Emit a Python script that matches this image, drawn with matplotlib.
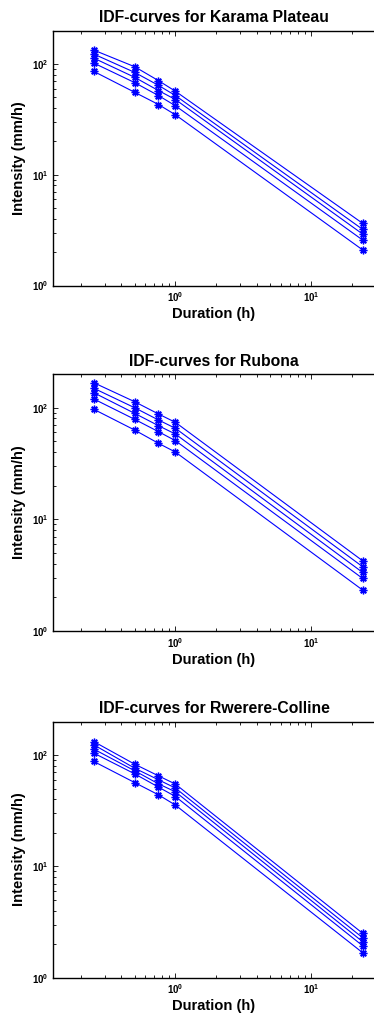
import matplotlib
matplotlib.use("Agg")
import matplotlib.pyplot as plt
from matplotlib.lines import Line2D
import numpy as np

plt.rcParams['font.family'] = ['Liberation Sans', 'DejaVu Sans']
plt.rcParams['font.weight'] = 'bold'
plt.rcParams['mathtext.fontset'] = 'custom'
plt.rcParams['mathtext.rm'] = 'Liberation Sans:bold'
plt.rcParams['mathtext.bf'] = 'Liberation Sans:bold'
plt.rcParams['mathtext.it'] = 'Liberation Sans:bold'

durations = [0.25, 0.5, 0.75, 1.0, 24.0]

titles = ["IDF-curves for Karama Plateau",
          "IDF-curves for Rubona",
          "IDF-curves for Rwerere-Colline"]

# each station: 5 return-period curves (top to bottom), values at durations
karama = [
    [133.6, 94.6, 70.8, 56.8, 3.65],
    [123.0, 84.1, 64.2, 51.9, 3.22],
    [113.0, 75.9, 57.6, 47.8, 2.92],
    [102.0, 68.0, 51.9, 42.0, 2.58],
    [85.8, 55.6, 43.1, 34.8, 2.10],
]
rubona = [
    [167.0, 113.0, 87.7, 73.8, 4.26],
    [149.0, 99.8, 77.5, 65.3, 3.77],
    [136.0, 88.9, 68.9, 58.0, 3.35],
    [119.5, 78.6, 60.9, 50.6, 2.96],
    [96.6, 63.0, 47.9, 40.0, 2.33],
]
rwerere = [
    [132.0, 82.8, 65.0, 54.8, 2.51],
    [123.5, 76.2, 59.9, 50.5, 2.29],
    [113.0, 72.2, 55.1, 46.7, 2.11],
    [104.0, 67.8, 51.5, 42.4, 1.94],
    [87.5, 56.6, 43.9, 35.5, 1.68],
]
stations = [karama, rubona, rwerere]

W, H = 374, 1015
fig = plt.figure(figsize=(W / 100, H / 100), dpi=100)

left_px, right_px = 53, 380
tops = [30.7, 374, 721.5]
bots = [285.5, 631, 977.7]

for title, data, t, b in zip(titles, stations, tops, bots):
    ax = fig.add_axes([left_px / W, 1 - b / H, (right_px - left_px) / W, (b - t) / H])
    for curve in data:
        ax.plot(durations, curve, color=(0, 0, 1), lw=0.8, marker=(8, 2, 0),
                markersize=5.5, markeredgewidth=1.0)
    ax.set_xscale('log')
    ax.set_yscale('log')
    ax.set_xlim(0.125, 32.3)
    ax.set_ylim(1, 200)
    ax.set_title(title, fontsize=11.3, fontweight='bold', pad=6,
                 x=(214 - left_px) / (right_px - left_px))
    ax.set_xlabel('Duration (h)', fontsize=10.6, fontweight='bold', labelpad=2)
    ax.xaxis.set_label_coords((213.5 - left_px) / (right_px - left_px), -0.085)
    ax.set_ylabel('Intensity (mm/h)', fontsize=10.6, fontweight='bold', labelpad=4)
    ax.tick_params(which='both', direction='in', top=True, right=True,
                   labelsize=7, width=0.6)
    ax.tick_params(which='major', length=3.5)
    ax.tick_params(which='minor', length=2)
    for s in ax.spines.values():
        s.set_linewidth(1.0)

fig.savefig("out.png", dpi=100)
